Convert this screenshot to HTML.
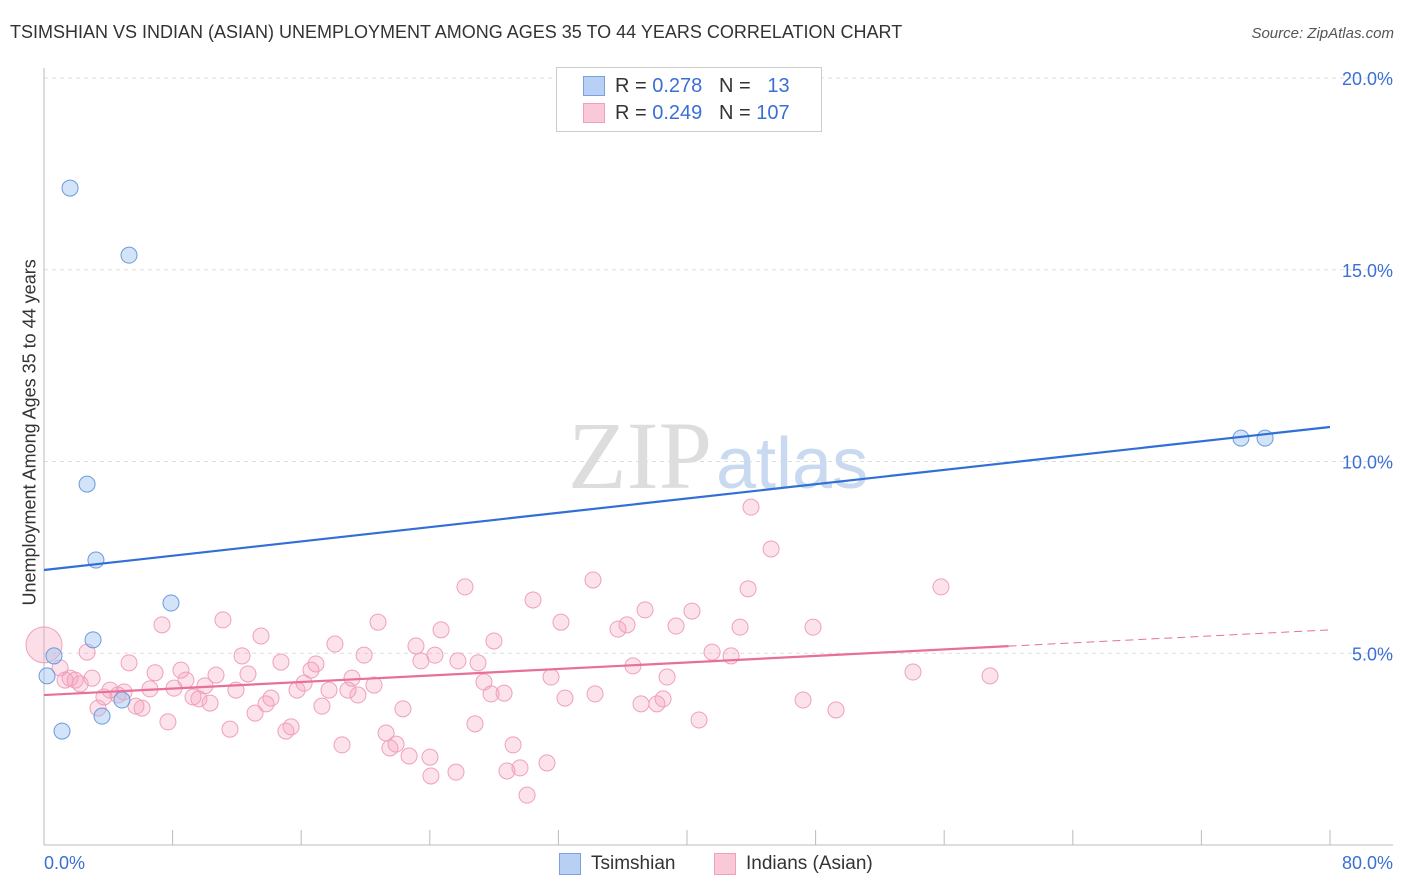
<!DOCTYPE html>
<html><head><meta charset="utf-8">
<style>
body{margin:0;background:#fff;font-family:"Liberation Sans",sans-serif;}
#wrap{position:relative;width:1406px;height:892px;overflow:hidden;}
.t{position:absolute;white-space:nowrap;}
</style></head><body>
<div id="wrap">
<div class="t" style="left:10px;top:22px;font-size:18px;color:#333;">TSIMSHIAN VS INDIAN (ASIAN) UNEMPLOYMENT AMONG AGES 35 TO 44 YEARS CORRELATION CHART</div>
<div class="t" style="right:12px;top:25px;font-size:15px;color:#555;font-style:italic;">Source: ZipAtlas.com</div>
<svg id="svg" width="1406" height="892" style="position:absolute;left:0;top:0"></svg>
</div>
<script>
const blueX=[1.62,5.29,2.68,3.23,7.90,3.05,0.62,0.19,4.85,3.61,1.12,74.46,75.96];
const blueY=[17.13,15.38,9.41,7.43,6.31,5.35,4.93,4.41,3.78,3.36,2.97,10.61,10.61];
const pinkX=[1.0,1.31,1.62,1.94,2.25,2.68,2.99,3.36,3.73,4.11,4.60,4.98,5.29,5.72,6.10,6.59,6.91,7.34,7.71,8.09,8.52,8.83,9.27,9.64,10.01,10.33,10.70,11.13,11.57,11.94,12.32,12.69,13.13,13.50,13.81,14.12,14.74,15.05,15.37,15.74,16.18,16.61,16.92,17.29,17.73,18.10,18.54,18.91,19.16,19.53,19.91,20.53,20.78,21.28,21.52,21.90,22.33,22.71,23.14,23.45,24.07,24.32,24.70,25.63,25.75,26.19,26.81,27.00,27.37,27.81,27.99,28.62,28.80,29.18,29.61,30.42,31.29,31.54,32.16,32.41,30.05,34.15,34.28,35.71,36.27,36.64,37.14,37.39,38.13,38.51,38.76,39.32,40.31,40.75,41.56,42.74,43.30,43.80,43.98,45.23,47.22,47.84,49.27,54.06,55.80,58.85,24.01];
const pinkY=[4.62,4.30,4.35,4.30,4.20,5.03,4.35,3.57,3.86,4.04,3.91,3.99,4.75,3.62,3.57,4.07,4.49,5.74,3.21,4.09,4.56,4.30,3.86,3.81,4.15,3.70,4.43,5.87,3.02,4.04,4.93,4.46,3.44,5.45,3.68,3.83,4.77,2.97,3.08,4.04,4.22,4.56,4.72,3.62,4.04,5.24,2.61,4.04,4.35,3.91,4.95,4.17,5.81,2.92,2.53,2.63,3.55,2.32,5.19,4.80,1.80,4.95,5.61,1.90,4.80,6.73,3.16,4.75,4.25,3.94,5.32,3.96,1.93,2.61,2.01,6.39,2.14,4.38,5.81,3.83,1.30,6.91,3.94,5.63,5.74,4.67,3.68,6.13,3.68,3.81,4.38,5.71,6.10,3.26,5.03,4.93,5.68,6.68,8.81,7.72,3.78,5.68,3.52,4.51,6.73,4.41,2.29];
const bigPink=[0,5.22];
const blueTrend=[7.17,10.90];
const pinkTrend=[3.91,5.61];
const pinkSolidEnd=60;
const yTicks=[5,10,15,20];
const xTickVals=[0,8,16,24,32,40,48,56,64,72,80];

const NS="http://www.w3.org/2000/svg";
const svg=document.getElementById('svg');
const X=v=>44+v*1286/80;
const Y=v=>845-v*38.35;
function mk(tag,attrs){const e=document.createElementNS(NS,tag);for(const k in attrs)e.setAttribute(k,attrs[k]);svg.appendChild(e);return e;}

yTicks.forEach(v=>{
  const l=mk('line',{x1:44,x2:1393,y1:Y(v),y2:Y(v),stroke:'#ddd','stroke-dasharray':'4,4'});
  
  
  const t=mk('text',{x:1393,y:Y(v)+7,'text-anchor':'end','font-size':18,fill:'#3b6fd6','font-family':'Liberation Sans'});
  t.textContent=v.toFixed(1)+'%';
  
  
});
const ax1=mk('line',{x1:44,x2:44,y1:68,y2:845,stroke:'#bbb'});


const ax2=mk('line',{x1:44,x2:1393,y1:845,y2:845,stroke:'#bbb'});


xTickVals.forEach(v=>{
  const l=mk('line',{x1:X(v),x2:X(v),y1:830,y2:845,stroke:'#bbb'});
  
  
});
const wm=mk('text',{x:712,y:488,'text-anchor':'end','font-size':96,fill:'#ddd','font-family':'Liberation Serif'});
wm.textContent='ZIP';


const wm2=mk('text',{x:716,y:488,'font-size':72,fill:'#c9d9f0','font-family':'Liberation Sans'});
wm2.textContent='atlas';



const bp=mk('circle',{cx:X(bigPink[0]),cy:Y(bigPink[1]),r:18,fill:'rgba(244,160,190,0.35)',stroke:'#f0a0bb'});


pinkX.forEach((x,i)=>{
  const c=mk('circle',{cx:X(x),cy:Y(pinkY[i]),r:8,fill:'rgba(244,160,190,0.3)',stroke:'#f0a0bb','stroke-width':1});
  
  
});
blueX.forEach((x,i)=>{
  const c=mk('circle',{cx:X(x),cy:Y(blueY[i]),r:8,fill:'rgba(160,195,240,0.45)',stroke:'#6a9ae0','stroke-width':1});
  
  
});
const bl=mk('line',{x1:X(0),y1:Y(blueTrend[0]),x2:X(80),y2:Y(blueTrend[1]),stroke:'#2f6fd6','stroke-width':2.2});


const pAt=x=>pinkTrend[0]+(pinkTrend[1]-pinkTrend[0])*x/80;
const pl=mk('line',{x1:X(0),y1:Y(pAt(0)),x2:X(pinkSolidEnd),y2:Y(pAt(pinkSolidEnd)),stroke:'#e86f9a','stroke-width':2.2});


const pd=mk('line',{x1:X(pinkSolidEnd),y1:Y(pAt(pinkSolidEnd)),x2:X(80),y2:Y(pAt(80)),stroke:'#e86f9a','stroke-width':1,'stroke-dasharray':'8,5'});


</script>
<div class="t" style="left:44px;top:853px;font-size:18px;color:#3b6fd6;">0.0%</div>
<div class="t" style="right:13px;top:853px;font-size:18px;color:#3b6fd6;">80.0%</div>
<div class="t" style="left:-120px;top:445px;width:300px;text-align:center;transform:rotate(-90deg);font-size:18px;color:#333;">Unemployment Among Ages 35 to 44 years</div>
<div style="position:absolute;left:556px;top:67px;width:264px;height:63px;border:1px solid #ccc;background:#fff;">
 <div class="t" style="left:26px;top:8px;width:20px;height:18px;background:#b8d0f4;border:1px solid #7aa0e0;"></div>
 <div class="t" style="left:58px;top:7px;font-size:20px;color:#333;">R = <span style="color:#3b6fd6">0.278</span> &nbsp;&nbsp;N = &nbsp;&nbsp;<span style="color:#3b6fd6">13</span></div>
 <div class="t" style="left:26px;top:35px;width:20px;height:18px;background:#f9c9d8;border:1px solid #f0a0bb;"></div>
 <div class="t" style="left:58px;top:34px;font-size:20px;color:#333;">R = <span style="color:#3b6fd6">0.249</span> &nbsp;&nbsp;N = <span style="color:#3b6fd6">107</span></div>
</div>
<div class="t" style="left:559px;top:853px;width:20px;height:20px;background:#b8d0f4;border:1px solid #7aa0e0;"></div>
<div class="t" style="left:591px;top:853px;font-size:19px;color:#333;">Tsimshian</div>
<div class="t" style="left:714px;top:853px;width:20px;height:20px;background:#f9c9d8;border:1px solid #f0a0bb;"></div>
<div class="t" style="left:746px;top:853px;font-size:19px;color:#333;">Indians (Asian)</div>
</body></html>
